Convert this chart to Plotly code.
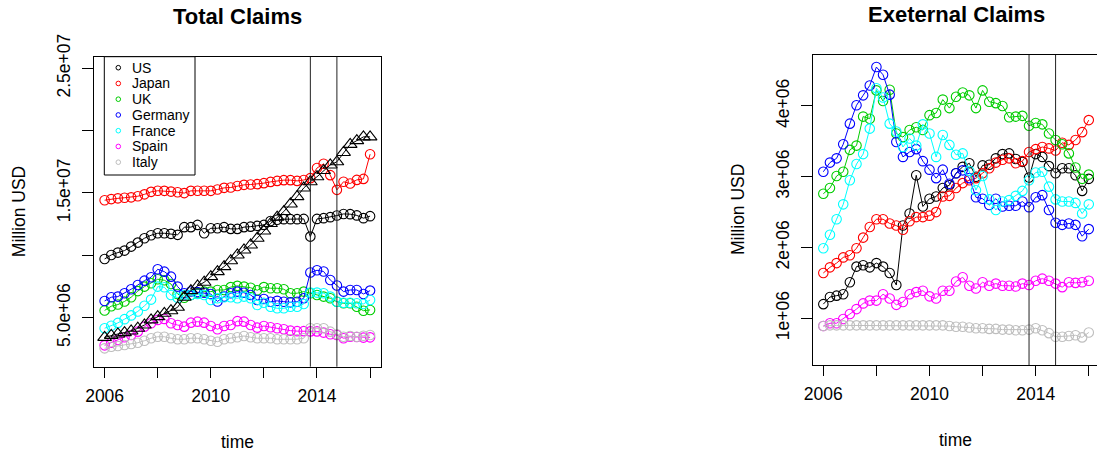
import plotly.graph_objects as go

W, H = 1097, 454
SCALE = 1e6  # series are kept in millions, plotted in units

# quarterly periods 2006 Q1 .. 2016 Q1
quarters = [2006 + q / 4 for q in range(41)]

countries = ["US", "Japan", "UK", "Germany", "France", "Spain", "Italy"]
colors = ["#000000", "#FF0000", "#00CD00", "#0000FF", "#00FFFF", "#FF00FF", "#BEBEBE"]

# ---- total claims (millions) ----
total_us = [9.71, 10.03, 10.22, 10.38, 10.70, 11.02, 11.37, 11.61, 11.77, 11.77,
            11.72, 11.64, 12.26, 12.26, 12.44, 11.77, 12.17, 12.17, 12.26, 12.12,
            12.12, 12.26, 12.30, 12.36, 12.44, 12.75, 12.85, 12.90, 12.90, 12.90,
            12.92, 11.50, 12.92, 12.98, 13.06, 13.19, 13.32, 13.30, 13.20, 12.98, 13.14]
total_japan = [14.42, 14.51, 14.57, 14.62, 14.65, 14.74, 14.89, 15.09, 15.18, 15.17,
               15.11, 15.06, 14.99, 15.17, 15.18, 15.18, 15.17, 15.28, 15.41, 15.44,
               15.56, 15.65, 15.68, 15.71, 15.79, 15.89, 15.97, 16.03, 16.03, 15.97,
               16.04, 16.19, 17.00, 17.34, 16.43, 15.25, 15.90, 15.76, 16.05, 16.13, 18.11]
total_uk = [5.58, 5.92, 6.05, 6.30, 6.64, 7.13, 7.49, 7.76, 8.08, 8.00,
            7.70, 6.90, 6.60, 6.82, 6.96, 7.09, 7.09, 7.22, 7.22, 7.45,
            7.55, 7.49, 7.40, 7.20, 7.45, 7.36, 7.36, 7.28, 6.96, 6.96,
            7.09, 6.96, 6.82, 6.69, 6.56, 6.28, 6.15, 6.15, 5.88, 5.56, 5.62]
total_germany = [6.34, 6.64, 6.69, 6.96, 7.28, 7.62, 7.97, 8.24, 8.88, 8.69,
                 8.29, 7.49, 6.96, 7.10, 7.05, 7.00, 6.90, 6.30, 6.69, 6.96,
                 7.09, 7.00, 6.82, 6.42, 6.50, 6.28, 6.35, 6.28, 6.23, 6.28,
                 6.56, 8.62, 8.80, 8.70, 8.02, 7.58, 7.09, 7.22, 7.22, 6.90, 7.17]
total_france = [4.15, 4.35, 4.58, 4.88, 5.18, 5.50, 5.95, 6.45, 7.49, 7.44,
                6.82, 6.60, 6.82, 6.82, 6.90, 6.82, 6.42, 6.56, 6.64, 6.64,
                6.56, 6.69, 6.56, 6.02, 6.20, 5.88, 5.75, 5.75, 5.88, 5.88,
                6.10, 7.01, 7.01, 6.96, 6.69, 6.28, 6.20, 6.20, 6.15, 6.10, 6.42]
total_spain = [2.78, 2.99, 3.21, 3.43, 3.61, 3.88, 4.28, 4.55, 4.82, 4.90,
               4.55, 4.41, 4.28, 4.60, 4.68, 4.60, 4.33, 4.07, 4.33, 4.41,
               4.72, 4.68, 4.41, 4.20, 4.33, 4.23, 4.15, 4.07, 3.96, 3.92,
               3.92, 3.90, 3.90, 3.80, 3.67, 3.61, 3.35, 3.47, 3.45, 3.40, 3.42]
total_italy = [2.54, 2.67, 2.73, 2.81, 2.89, 2.99, 3.15, 3.35, 3.47, 3.47,
               3.35, 3.27, 3.27, 3.35, 3.35, 3.27, 3.15, 3.07, 3.27, 3.35,
               3.43, 3.53, 3.43, 3.35, 3.35, 3.35, 3.27, 3.27, 3.27, 3.27,
               3.35, 4.15, 4.15, 4.15, 3.88, 3.67, 3.47, 3.53, 3.47, 3.55, 3.61]
total_aggregate = [3.42, 3.58, 3.69, 3.80, 3.93, 4.15, 4.41, 4.82, 5.08, 5.35,
                   5.56, 5.83, 6.64, 7.17, 7.54, 7.84, 8.29, 8.69, 9.09, 9.57,
                   10.03, 10.43, 10.83, 11.37, 11.95, 12.55, 13.06, 13.51, 14.12, 14.71,
                   15.40, 15.90, 16.30, 16.80, 17.25, 17.50, 18.25, 18.90, 19.20, 19.50, 19.50]

# ---- external claims (millions) ----
ext_us = [1.20, 1.30, 1.32, 1.34, 1.51, 1.73, 1.75, 1.72, 1.78, 1.73,
          1.64, 1.47, 2.31, 2.48, 3.02, 2.58, 2.69, 2.72, 2.84, 2.88,
          3.05, 3.14, 3.19, 3.00, 3.16, 3.17, 3.26, 3.32, 3.33, 3.25,
          3.21, 2.99, 3.32, 3.28, 3.15, 3.05, 3.12, 3.12, 3.02, 2.80, 2.97]
ext_japan = [1.64, 1.72, 1.78, 1.86, 1.89, 1.99, 2.14, 2.29, 2.40, 2.40,
             2.34, 2.31, 2.25, 2.37, 2.43, 2.43, 2.45, 2.50, 2.72, 2.73,
             2.84, 2.91, 2.95, 2.98, 3.05, 3.12, 3.20, 3.24, 3.26, 3.19,
             3.22, 3.35, 3.39, 3.42, 3.40, 3.37, 3.48, 3.45, 3.52, 3.63, 3.80]
ext_uk = [2.76, 2.84, 3.01, 3.07, 3.38, 3.44, 3.85, 3.82, 4.22, 4.07,
          4.23, 3.61, 3.56, 3.66, 3.70, 3.66, 3.87, 3.90, 4.09, 3.97,
          4.13, 4.19, 4.15, 3.97, 4.22, 4.06, 4.04, 4.00, 3.84, 3.85,
          3.86, 3.72, 3.76, 3.74, 3.61, 3.52, 3.46, 3.33, 3.13, 2.97, 3.03]
ext_germany = [3.07, 3.20, 3.26, 3.46, 3.75, 4.01, 4.15, 4.29, 4.55, 4.44,
               4.16, 3.49, 3.28, 3.35, 3.39, 3.22, 3.10, 2.98, 3.10, 2.90,
               3.05, 3.09, 2.98, 2.71, 2.69, 2.60, 2.69, 2.58, 2.59, 2.59,
               2.65, 2.57, 2.71, 2.74, 2.53, 2.35, 2.32, 2.34, 2.32, 2.16, 2.26]
ext_france = [1.99, 2.18, 2.40, 2.61, 2.95, 3.18, 3.32, 3.68, 4.25, 4.12,
              3.75, 3.64, 3.42, 3.54, 3.44, 3.74, 3.61, 3.28, 3.59, 3.45,
              3.31, 3.33, 3.08, 2.81, 3.01, 2.68, 2.53, 2.65, 2.67, 2.73,
              2.80, 2.95, 3.06, 3.07, 2.86, 2.68, 2.65, 2.65, 2.63, 2.48, 2.61]
ext_spain = [0.89, 0.93, 0.93, 0.99, 1.06, 1.13, 1.21, 1.25, 1.25, 1.34,
             1.28, 1.19, 1.23, 1.34, 1.37, 1.39, 1.31, 1.28, 1.39, 1.39,
             1.52, 1.58, 1.46, 1.42, 1.51, 1.46, 1.49, 1.46, 1.46, 1.45,
             1.49, 1.47, 1.53, 1.56, 1.53, 1.49, 1.44, 1.51, 1.50, 1.51, 1.53]
ext_italy = [0.89, 0.90, 0.90, 0.90, 0.90, 0.90, 0.90, 0.90, 0.90, 0.90,
             0.90, 0.90, 0.90, 0.90, 0.90, 0.90, 0.90, 0.90, 0.90, 0.89,
             0.88, 0.88, 0.87, 0.86, 0.86, 0.85, 0.85, 0.84, 0.84, 0.83,
             0.83, 0.84, 0.86, 0.83, 0.79, 0.74, 0.74, 0.75, 0.76, 0.73, 0.80]

total_series = [total_us, total_japan, total_uk, total_germany, total_france, total_spain, total_italy]
ext_series = [ext_us, ext_japan, ext_uk, ext_germany, ext_france, ext_spain, ext_italy]

# reference lines (quarter boundaries)
breaks = [2013.75, 2014.75]

x_ticks = [2006, 2008, 2010, 2012, 2014, 2016]
x_tick_text = ["2006", "", "2010", "", "2014", ""]
total_y_ticks = [5e6, 1e7, 1.5e7, 2e7, 2.5e7]
total_y_text = ["5.0e+06", "", "1.5e+07", "", "2.5e+07"]
ext_y_ticks = [1e6, 2e6, 3e6, 4e6]
ext_y_text = ["1e+06", "2e+06", "3e+06", "4e+06"]

FONT = "Liberation Sans, Arial, sans-serif"
TICK_FS = 17.5


def px(x):
    return x / W


def py(y):
    return 1 - y / H


fig = go.Figure()


def add_series(vals, color, xa, ya, symbol="circle-open", size=9.5):
    fig.add_trace(go.Scatter(
        x=quarters, y=[v * SCALE for v in vals], mode="lines+markers",
        line=dict(color=color, width=1),
        marker=dict(symbol=symbol, size=size, color=color, line=dict(color=color, width=1.1)),
        xaxis=xa, yaxis=ya, showlegend=False, hoverinfo="skip"))


for vals, col in zip(total_series, colors):
    add_series(vals, col, "x", "y")
add_series(total_aggregate, "#000000", "x", "y", symbol="triangle-up-open", size=12)

for vals, col in zip(ext_series, colors):
    add_series(vals, col, "x2", "y2")

axis_common = dict(showgrid=False, zeroline=False, showline=True, linecolor="#000000",
                   linewidth=1, ticks="outside", tickcolor="#000000", tickwidth=1,
                   automargin=False,
                   tickfont=dict(family=FONT, size=TICK_FS, color="#000000"))

fig.update_layout(
    template="none",
    width=W, height=H, margin=dict(l=0, r=0, t=0, b=0, pad=0, autoexpand=False),
    paper_bgcolor="white", plot_bgcolor="white", showlegend=False,
    xaxis=dict(domain=[px(94), px(380.7)], range=[2005.6, 2016.4], anchor="y",
               tickvals=x_ticks, ticktext=x_tick_text, ticklen=10, mirror=True,
               ticklabelstandoff=3, **axis_common),
    yaxis=dict(domain=[py(366.7), py(56.7)], range=[1.067e6, 2.593e7], anchor="x",
               tickvals=total_y_ticks, ticktext=total_y_text, ticklen=11, tickangle=-90,
               mirror=True, ticklabelstandoff=5, **axis_common),
    xaxis2=dict(domain=[px(812.7), 1.0], range=[2005.6, 2016.31], anchor="y2",
                tickvals=x_ticks, ticktext=x_tick_text, ticklen=10, mirror=True,
                ticklabelstandoff=3, **axis_common),
    yaxis2=dict(domain=[py(365), py(55)], range=[0.34e6, 4.72e6], anchor="x2",
                tickvals=ext_y_ticks, ticktext=ext_y_text, ticklen=11, tickangle=-90,
                mirror=False, ticklabelstandoff=5, **axis_common),
)

shapes = []
for b in breaks:
    shapes.append(dict(type="line", xref="x", yref="y domain", x0=b, x1=b, y0=0, y1=1,
                       line=dict(color="#222222", width=1)))
    shapes.append(dict(type="line", xref="x2", yref="y2 domain", x0=b, x1=b, y0=0, y1=1,
                       line=dict(color="#222222", width=1)))

# legend box in the upper-left corner of the totals panel
leg_left, leg_top, leg_right, leg_bottom = 104.3, 56.7, 195, 175
shapes.append(dict(type="rect", xref="paper", yref="paper",
                   x0=px(leg_left), x1=px(leg_right), y0=py(leg_bottom), y1=py(leg_top),
                   line=dict(color="#000000", width=1), fillcolor="white"))
annotations = []
row0, row_step, sym_x, text_x, r = 67.7, 15.75, 118.3, 129.5, 2.3
for k, (name, col) in enumerate(zip(countries, colors)):
    yc = row0 + k * row_step
    shapes.append(dict(type="circle", xref="paper", yref="paper",
                       x0=px(sym_x - r), x1=px(sym_x + r), y0=py(yc + r), y1=py(yc - r),
                       line=dict(color=col, width=1)))
    annotations.append(dict(text=name, x=px(text_x), y=py(yc), xref="paper", yref="paper",
                            xanchor="left", yanchor="middle", showarrow=False,
                            font=dict(family=FONT, size=14, color="#000000")))

# panel titles and axis titles
for txt, xc, yc in [("Total Claims", 237.5, 16), ("Exeternal Claims", 956, 14)]:
    annotations.append(dict(text="<b>%s</b>" % txt, x=px(xc), y=py(yc), xref="paper", yref="paper",
                            xanchor="center", yanchor="middle", showarrow=False,
                            font=dict(family=FONT, size=22, color="#000000")))
for xc, yc in [(237.5, 441.5), (955.5, 440)]:
    annotations.append(dict(text="time", x=px(xc), y=py(yc), xref="paper", yref="paper",
                            xanchor="center", yanchor="middle", showarrow=False,
                            font=dict(family=FONT, size=TICK_FS, color="#000000")))
for xc, yc in [(18.5, 211.7), (738, 210)]:
    annotations.append(dict(text="Million USD", x=px(xc), y=py(yc), xref="paper", yref="paper",
                            xanchor="center", yanchor="middle", showarrow=False, textangle=-90,
                            font=dict(family=FONT, size=TICK_FS, color="#000000")))

fig.update_layout(shapes=shapes, annotations=annotations)
fig.write_html("out.html")
